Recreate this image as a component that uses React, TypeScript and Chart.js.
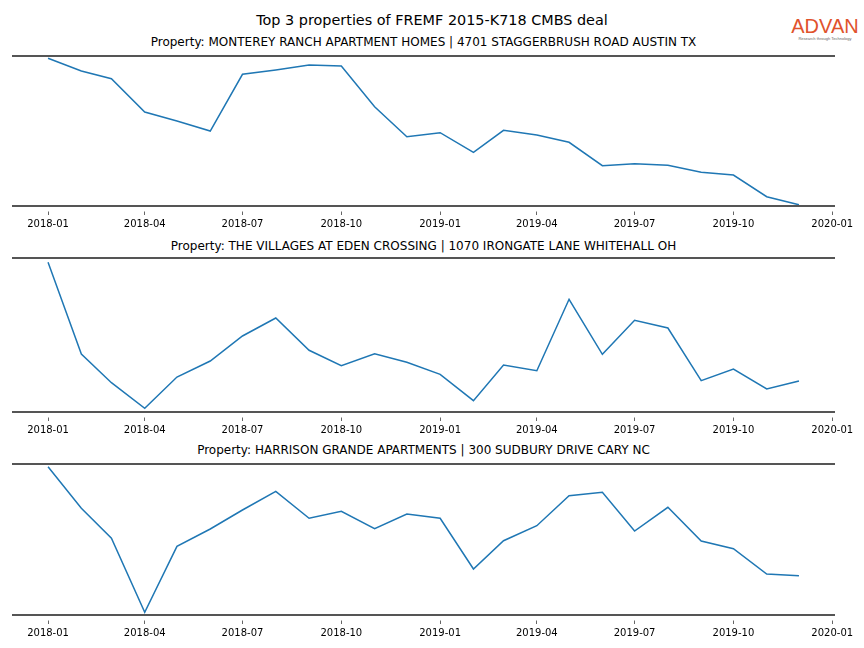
import React, { useEffect, useRef } from "react";
import { Chart, registerables } from "chart.js";

Chart.register(...registerables);

const months = [
  "2018-01", "2018-02", "2018-03", "2018-04", "2018-05", "2018-06",
  "2018-07", "2018-08", "2018-09", "2018-10", "2018-11", "2018-12",
  "2019-01", "2019-02", "2019-03", "2019-04", "2019-05", "2019-06",
  "2019-07", "2019-08", "2019-09", "2019-10", "2019-11", "2019-12",
];

const tickLabels = [
  "2018-01", "2018-04", "2018-07", "2018-10",
  "2019-01", "2019-04", "2019-07", "2019-10", "2020-01",
];

const mainTitle = "Top 3 properties of FREMF 2015-K718 CMBS deal";

const titles = [
  "Property: MONTEREY RANCH APARTMENT HOMES | 4701 STAGGERBRUSH ROAD AUSTIN TX",
  "Property: THE VILLAGES AT EDEN CROSSING | 1070 IRONGATE LANE WHITEHALL OH",
  "Property: HARRISON GRANDE APARTMENTS | 300 SUDBURY DRIVE CARY NC",
];

const seriesMonterey = [
  147.7, 135, 127.3, 94, 85, 75, 131.7, 136, 141, 140, 99.3, 69.3,
  73.3, 53.7, 75.7, 71, 63.7, 40.3, 42.3, 40.7, 33.7, 31, 9.3, 1.3,
];
const seriesVillages = [
  149.7, 58, 29.3, 3.7, 35, 51, 76, 94, 61.7, 46.3, 58.3, 49.7,
  37.7, 11.3, 47, 41.3, 112.7, 57.7, 91.7, 84, 31.3, 43, 23, 31,
];
const seriesHarrison = [
  148.3, 106.7, 76.7, 2.7, 68.7, 86, 105, 123.7, 96.7, 103.7, 86.3, 101,
  96.7, 46, 74.3, 89.3, 119.3, 122.7, 84, 107.7, 74, 66.3, 41, 39.3,
];

const seriesList = [seriesMonterey, seriesVillages, seriesHarrison];
const yMaxList = [150, 154, 151];

const DAY = 86400000;
const base = Date.UTC(2018, 0, 1);
const toDay = (s: string) => {
  const [y, m] = s.split("-").map(Number);
  return Math.round((Date.UTC(y, m - 1, 1) - base) / DAY);
};
const monthDays = months.map(toDay);
const tickDays = tickLabels.map(toDay);
const span = monthDays[monthDays.length - 1] - monthDays[0];
const xMin = monthDays[0] - span * 0.048;
const xMax = monthDays[monthDays.length - 1] + span * 0.048;

// chart area layout (pixel geometry only)
const AREA_LEFT = 12;
const AREA_RIGHT = 835;
const panels = [
  { top: 56, bottom: 206, titleY: 42 },
  { top: 258, bottom: 412, titleY: 246 },
  { top: 464, bottom: 615, titleY: 450 },
];
const PAD_TOP = 4;
const AXIS_H = 30;
const FONT = "'DejaVu Sans', sans-serif";

const spinePlugin = {
  id: "spines",
  afterDatasetsDraw(chart: any) {
    const { ctx, chartArea } = chart;
    ctx.save();
    ctx.strokeStyle = "#555555";
    ctx.lineWidth = 2;
    ctx.beginPath();
    ctx.moveTo(chartArea.left, chartArea.top);
    ctx.lineTo(chartArea.right, chartArea.top);
    ctx.moveTo(chartArea.left, chartArea.bottom);
    ctx.lineTo(chartArea.right, chartArea.bottom);
    ctx.stroke();
    ctx.restore();
  },
};

function Panel({ idx }: { idx: number }) {
  const ref = useRef<HTMLCanvasElement>(null);
  const p = panels[idx];
  const h = p.bottom - p.top + PAD_TOP + AXIS_H;
  useEffect(() => {
    if (!ref.current) return;
    const data = seriesList[idx].map((v, i) => ({ x: monthDays[i], y: v }));
    const chart = new Chart(ref.current, {
      type: "line",
      data: {
        datasets: [
          {
            data,
            borderColor: "#1f77b4",
            borderWidth: 1.5,
            pointRadius: 0,
            fill: false,
            tension: 0,
          },
        ],
      },
      options: {
        animation: false,
        responsive: false,
        devicePixelRatio: 1,
        events: [],
        layout: {
          padding: { left: AREA_LEFT, right: 864 - AREA_RIGHT, top: PAD_TOP, bottom: 0 },
        },
        plugins: { legend: { display: false }, tooltip: { enabled: false }, title: { display: false } },
        scales: {
          x: {
            type: "linear",
            min: xMin,
            max: xMax,
            afterBuildTicks: (scale: any) => {
              scale.ticks = tickDays.map((v) => ({ value: v }));
            },
            afterFit: (scale: any) => {
              scale.height = AXIS_H;
            },
            border: { display: false },
            grid: {
              display: true,
              drawOnChartArea: false,
              drawTicks: true,
              tickLength: 9,
              tickColor: "#666666",
              tickWidth: 1,
              tickBorderDash: [0, 5.5, 3.5, 100],
            },
            ticks: {
              autoSkip: false,
              maxRotation: 0,
              padding: 3,
              color: "#000000",
              font: { family: FONT, size: 10 },
              callback: (value: any) => {
                const i = tickDays.indexOf(Number(value));
                return i >= 0 ? tickLabels[i] : "";
              },
            },
          },
          y: {
            display: false,
            min: 0,
            max: yMaxList[idx],
          },
        },
      },
      plugins: [spinePlugin],
    });
    return () => chart.destroy();
  }, [idx]);
  return (
    <>
      <div
        style={{
          position: "absolute",
          left: AREA_LEFT,
          width: AREA_RIGHT - AREA_LEFT,
          top: p.titleY - 8,
          height: 16,
          lineHeight: "16px",
          textAlign: "center",
          fontFamily: FONT,
          fontSize: 12,
          color: "#000",
          whiteSpace: "nowrap",
        }}
      >
        {titles[idx]}
      </div>
      <canvas
        ref={ref}
        width={864}
        height={h}
        style={{ position: "absolute", left: 0, top: p.top - PAD_TOP, width: 864, height: h }}
      />
    </>
  );
}

export default function App() {
  return (
    <div
      style={{
        position: "absolute",
        left: 0,
        top: 0,
        width: 864,
        height: 648,
        background: "#ffffff",
        overflow: "hidden",
      }}
    >
      <div
        style={{
          position: "absolute",
          left: 0,
          width: 864,
          top: 11,
          height: 18,
          lineHeight: "18px",
          textAlign: "center",
          fontFamily: FONT,
          fontSize: 14.4,
          color: "#000",
        }}
      >
        {mainTitle}
      </div>
      <div style={{ position: "absolute", left: 790, top: 16, width: 70, textAlign: "center" }}>
        <div
          style={{
            fontFamily: "'Liberation Sans', Arial, sans-serif",
            fontSize: 20,
            lineHeight: "20px",
            color: "#e0522c",
            letterSpacing: 0,
          }}
        >
          ADVAN
        </div>
        <div
          style={{
            fontFamily: "'Liberation Sans', Arial, sans-serif",
            fontSize: 4,
            lineHeight: "5px",
            color: "#666",
            whiteSpace: "nowrap",
          }}
        >
          Research through Technology
        </div>
      </div>
      {panels.map((_, i) => (
        <Panel key={i} idx={i} />
      ))}
    </div>
  );
}
